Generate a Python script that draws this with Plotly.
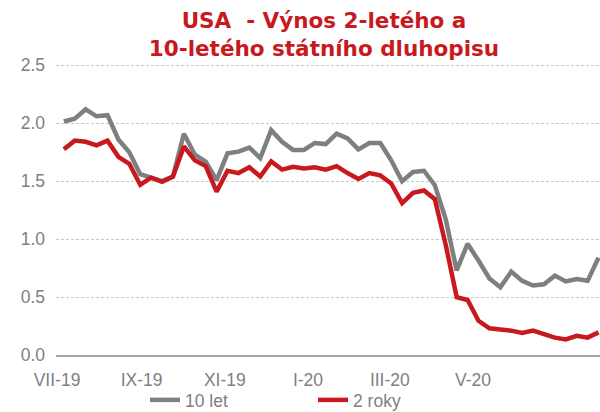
import pandas as pd
import plotly.graph_objects as go

# Observation dates (x categories)
dates = pd.date_range("2019-07-06", periods=50, freq="8D")

# Yields (%)
y10 = [2.015, 2.04, 2.12, 2.06, 2.07, 1.86, 1.75, 1.56, 1.53, 1.50,
       1.54, 1.91, 1.73, 1.67, 1.51, 1.74, 1.755, 1.79, 1.70, 1.94,
       1.84, 1.77, 1.77, 1.83, 1.82, 1.91, 1.87, 1.775, 1.83, 1.83,
       1.68, 1.50, 1.58, 1.59, 1.465, 1.17, 0.73, 0.96, 0.815, 0.66,
       0.585, 0.72, 0.64, 0.60, 0.61, 0.685, 0.635, 0.655, 0.64, 0.84]
y2 = [1.775, 1.85, 1.84, 1.81, 1.85, 1.71, 1.65, 1.47, 1.53, 1.495,
      1.54, 1.80, 1.68, 1.63, 1.41, 1.59, 1.57, 1.62, 1.54, 1.67,
      1.60, 1.625, 1.61, 1.62, 1.60, 1.63, 1.57, 1.52, 1.57, 1.55,
      1.48, 1.31, 1.40, 1.42, 1.345, 0.95, 0.50, 0.475, 0.295, 0.23,
      0.22, 0.21, 0.19, 0.21, 0.18, 0.15, 0.135, 0.165, 0.15, 0.195]

tick_dates = ["2019-07-01", "2019-09-01", "2019-11-01", "2020-01-01", "2020-03-01", "2020-05-01"]
tick_labels = ["VII-19", "IX-19", "XI-19", "I-20", "III-20", "V-20"]

GRAY = "#7F7F7F"
RED = "#C8191E"
TXT = "#7F7F7F"

fig = go.Figure()
fig.add_trace(go.Scatter(x=dates, y=y10, mode="lines", name="10 let",
                         line=dict(color=GRAY, width=4.5)))
fig.add_trace(go.Scatter(x=dates, y=y2, mode="lines", name="2 roky",
                         line=dict(color=RED, width=4.5)))

fig.update_layout(
    width=600, height=412,
    margin=dict(l=56, r=0, t=63, b=57, autoexpand=False),
    paper_bgcolor="white", plot_bgcolor="white",
    title=dict(text="<b>USA\u00a0 - Výnos 2-letého a<br>10-letého státního dluhopisu</b>",
               font=dict(family="DejaVu Sans", size=21.5, color=RED),
               x=0.54, xanchor="center", xref="container",
               y=0.931, yanchor="top", yref="container", automargin=False),
    font=dict(family="Liberation Sans, Arial, sans-serif", size=17.5, color=TXT),
    showlegend=True,
    legend=dict(orientation="h", xref="container", yref="container",
                x=145/600, xanchor="left", y=1 - 400/412, yanchor="middle",
                entrywidth=123, entrywidthmode="pixels",
                font=dict(size=17.5, color=TXT), bgcolor="rgba(0,0,0,0)"),
    xaxis=dict(range=["2019-06-30 06:00", "2020-08-02 02:00"],
               tickmode="array", tickvals=tick_dates, ticktext=tick_labels,
               showgrid=False, showline=True, linecolor="#A6A6A6", linewidth=2,
               ticks="", ticklabelstandoff=8, zeroline=False, automargin=False),
    yaxis=dict(range=[0, 2.52], dtick=0.5, tick0=0, tickformat=".1f",
               showgrid=True, gridcolor="#C8C8C8", gridwidth=1, griddash="3px,2px",
               zeroline=False, showline=False, ticks="", ticklabelstandoff=10,
               automargin=False),
)

fig.write_html(
    "out.html",
    config={"displayModeBar": False},
    post_script="document.body.style.margin='0px';document.body.style.overflow='hidden';",
)
